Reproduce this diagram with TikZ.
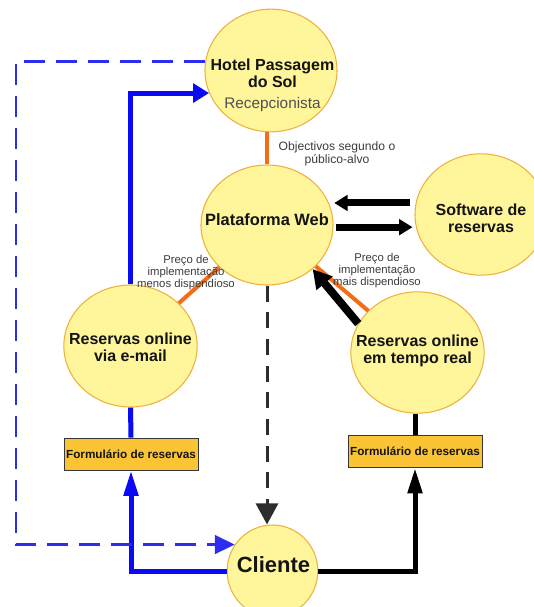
\documentclass[tikz,border=0pt]{standalone}
\usepackage{fontspec}
\setmainfont{Liberation Sans}
\usetikzlibrary{arrows.meta,shapes.geometric}

\definecolor{bubble}{RGB}{255,245,155}
\definecolor{bubbleedge}{RGB}{238,178,60}
\definecolor{formfill}{RGB}{250,196,52}
\definecolor{linkorange}{RGB}{244,108,22}
\definecolor{flowblue}{RGB}{10,10,245}
\definecolor{dashblue}{RGB}{45,45,240}
\definecolor{ink}{RGB}{20,20,20}
\definecolor{dashink}{RGB}{45,45,45}
\definecolor{notegray}{RGB}{60,60,60}

\begin{document}
\begin{tikzpicture}[x=0.75pt,y=-0.75pt,
  bubble/.style={ellipse, draw=bubbleedge, line width=0.8pt, fill=bubble, inner sep=0pt},
  formbox/.style={rectangle, draw=ink!85, line width=0.7pt, fill=formfill,
    minimum width=100.5pt, minimum height=24pt, inner sep=0pt,
    font=\fontsize{8.8}{10}\selectfont\bfseries, text=ink},
  title/.style={anchor=base, align=center, inner sep=0pt,
    font=\fontsize{12}{12.75}\selectfont\bfseries, text=ink},
  note/.style={anchor=base, align=center, inner sep=0pt, text=notegray},
  link/.style={linkorange, line width=3pt},
  fatarrow/.style={black, line width=5.25pt, -{Triangle[length=10pt,width=11.5pt]}},
  diagarrow/.style={black, line width=6pt, -{Triangle[length=14pt,width=15pt]}},
  blueflow/.style={flowblue, line width=3.75pt},
  blackflow/.style={black, line width=3.75pt},
  uptip/.style={-{Triangle[length=19pt,width=10.5pt]}},
  dashflow/.style={dashink, line width=2.25pt, dash pattern=on 12pt off 8pt,
    -{Triangle[length=15.75pt,width=16.5pt]}},
  bluedash/.style={dashblue, line width=2pt, dash pattern=on 15.75pt off 8.25pt,
    -{Triangle[length=15pt,width=14pt]}}
]
\fill[white] (0,0) rectangle (534,607);
\useasboundingbox (0,0) rectangle (534,607);
\clip (0,0) rectangle (534,607);

% bubbles
\node[bubble, minimum width=99pt, minimum height=92pt] (hotel) at (271,70.5) {};
\node[bubble, minimum width=99pt, minimum height=90pt] (plat) at (267,225) {};
\node[bubble, minimum width=99pt, minimum height=91pt] (soft) at (481,214.5) {};
\node[bubble, minimum width=100pt, minimum height=91.5pt] (email) at (130.5,346) {};
\node[bubble, minimum width=100pt, minimum height=91pt] (real) at (417.5,352.5) {};
\node[bubble, minimum width=68pt, minimum height=69pt] (cliente) at (272.5,571) {};

% booking forms
\node[formbox] (form1) at (131,454) {Formulário de reservas};
\node[formbox] (form2) at (415,451.5) {Formulário de reservas};

% free corner of the dashed feedback loop
\coordinate (loopx) at (16,300);

% orange relations
\draw[link] (plat.north) -- (plat.north |- hotel.south);
\draw[link] (plat) -- (email);
\draw[link] (plat) -- (real);

% black exchange arrows
\draw[fatarrow, shorten <=4.5pt, shorten >=0.5pt] (soft.170) -- (plat.east |- soft.170);
\draw[fatarrow, shorten <=1.5pt, shorten >=2.5pt] (plat.east |- soft.191) -- (soft.191);
\draw[diagarrow] (real.154) -- (plat.316);

% e-mail booking path
\draw[blueflow, -{Triangle[length=12pt,width=14pt]}] (email.north) |- (hotel.200);
\draw[blueflow] (email.south) -- (form1.north);
\draw[blueflow, uptip] (cliente.180) -| (form1.south);

% real-time booking path
\draw[blackflow] (form2.north) -- (form2.north |- real.south);
\draw[blackflow, uptip] (cliente.0) -| (form2.south);

% dashed flows
\draw[dashflow] (plat.south) -- (plat.south |- cliente.north);
\draw[bluedash] (hotel.172) -- (hotel.172 -| loopx) -- (loopx |- cliente.145) -- (cliente.145);

% texts (base anchor = baseline of the last line)
\node[title] (hoteltxt) at (272.5,108) {Hotel Passagem\\do Sol\\[3pt]{\fontsize{11.5}{13}\selectfont\mdseries\color{notegray!90}Recepcionista}};
\node[title, font=\fontsize{12.3}{13}\selectfont\bfseries] (plattxt) at (267,225) {Plataforma Web};
\node[title] (softtxt) at (481,232) {Software de\\reservas};
\node[title] (emailtxt) at (130.5,361) {Reservas online\\via e-mail};
\node[title] (realtxt) at (417.5,363) {Reservas online\\em tempo real};
\node[title, font=\fontsize{16.5}{18}\selectfont\bfseries] (clientetxt) at (273.5,572) {Cliente};

\node[note, font=\fontsize{9.1}{9.75}\selectfont] (objtxt) at (337,163) {Objectivos segundo o\\público-alvo};
\node[note, font=\fontsize{8.5}{8.8}\selectfont] (cheaptxt) at (186,287) {Preço de\\implementação\\menos dispendioso};
\node[note, font=\fontsize{8.5}{8.8}\selectfont] (costlytxt) at (377,285) {Preço de\\implementação\\mais dispendioso};
\end{tikzpicture}
\end{document}
